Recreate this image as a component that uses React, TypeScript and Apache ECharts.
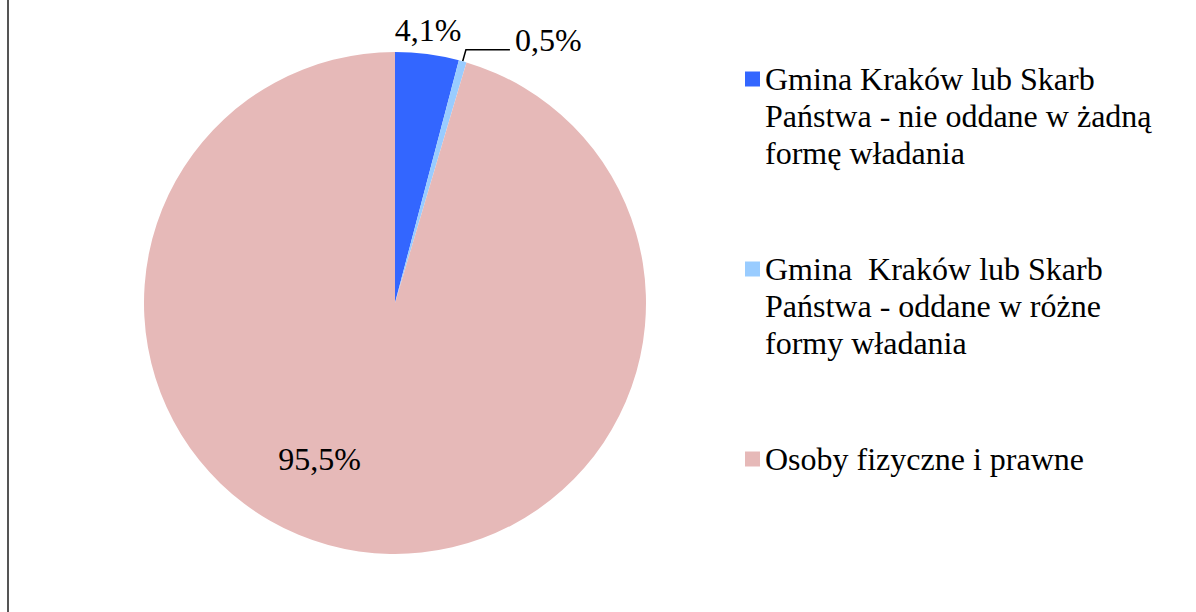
import React, { useEffect, useRef } from "react";
import * as echarts from "echarts";

// ---- data ----
const categories = [
  "Gmina Kraków lub Skarb\nPaństwa - nie oddane w żadną\nformę władania",
  "Gmina  Kraków lub Skarb\nPaństwa - oddane w różne\nformy władania",
  "Osoby fizyczne i prawne",
];
const shares = [4.1, 0.5, 95.5];
const sliceColors = ["#3366FF", "#99CCFF", "#E6B9B8"];

const FONT = "Liberation Serif";

export default function App() {
  const ref = useRef<HTMLDivElement>(null);

  useEffect(() => {
    if (!ref.current) return;
    const chart = echarts.init(ref.current, null, { renderer: "svg" });

    const fmt = (v: number) => `${v.toFixed(1).replace(".", ",")}%`;

    const data = categories.map((name, i) => {
      const item: any = {
        name,
        value: shares[i],
        itemStyle: { color: sliceColors[i] },
      };
      if (i === 0) {
        item.label = { position: "outside", distance: 0 };
        item.labelLine = { show: false, length: 20, length2: 0 };
      } else if (i === 1) {
        item.label = { position: "outside", distance: 2 };
        item.labelLine = { show: true, length: 12, length2: 44 };
      } else {
        item.label = { position: "inside" };
      }
      return item;
    });

    const labelShift: Record<number, { dx: number; dy: number }> = {
      0: { dx: -40, dy: -4 },
      1: { dx: 0, dy: -10 },
      2: { dx: -57, dy: 29 },
    };

    chart.setOption({
      animation: false,
      backgroundColor: "#ffffff",
      graphic: [
        {
          type: "rect",
          shape: { x: 7, y: 0, width: 2, height: 612 },
          style: { fill: "#555555" },
          silent: true,
        },
      ],
      legend: {
        orient: "vertical",
        left: 745,
        top: -13.5,
        height: 640,
        padding: 0,
        itemGap: 5,
        itemWidth: 15,
        itemHeight: 15,
        icon: "rect",
        selectedMode: false,
        formatter: (name: string) => {
          const lines = name.split("\n").length;
          // pad with blank lines so the first line sits beside the marker
          return lines === 1 ? "\n\n" + name + "\n\n" : "\n\n" + name;
        },
        textStyle: {
          fontFamily: FONT,
          fontSize: 32,
          lineHeight: 37,
          color: "#000000",
        },
        data: categories,
      },
      series: [
        {
          type: "pie",
          center: [395, 303],
          radius: 251,
          startAngle: 90,
          clockwise: true,
          avoidLabelOverlap: false,
          silent: true,
          itemStyle: { borderWidth: 0 },
          label: {
            show: true,
            fontFamily: FONT,
            fontSize: 32,
            lineHeight: 37,
            color: "#000000",
            formatter: (p: any) => fmt(p.value),
          },
          labelLine: {
            lineStyle: { color: "#000000", width: 1.5 },
          },
          labelLayout: (params: any) => {
            const s = labelShift[params.dataIndex];
            return s ? { dx: s.dx, dy: s.dy } : {};
          },
          data,
        },
      ],
    });

    return () => chart.dispose();
  }, []);

  return (
    <div
      ref={ref}
      style={{ position: "absolute", left: 0, top: 0, width: 1196, height: 612 }}
    />
  );
}
